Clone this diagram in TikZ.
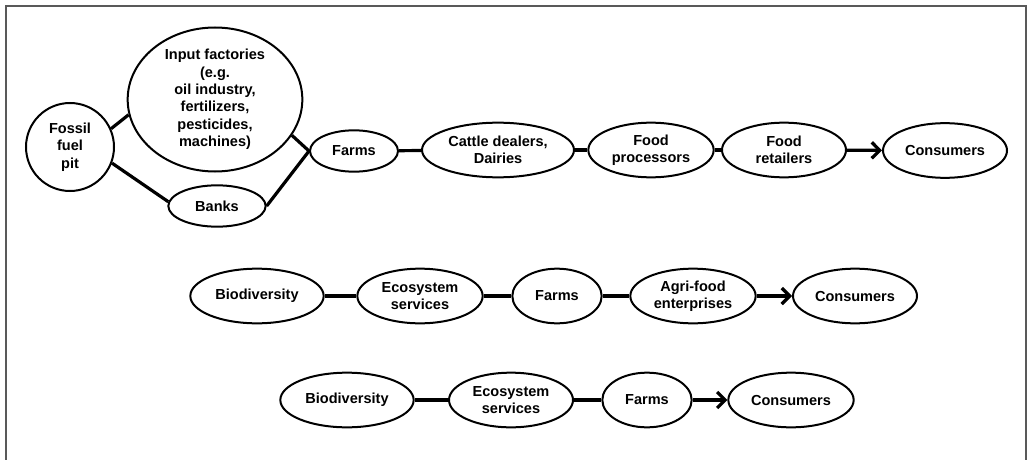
\documentclass[tikz,border=0pt]{standalone}
\usepackage{fontspec}
\setmainfont{Liberation Sans}
\usepackage{tikz}
\usetikzlibrary{shapes.geometric,arrows.meta}

\tikzset{
  oval/.style={draw, ellipse, line width=1.5pt, inner sep=0pt, align=center,
    font=\bfseries\fontsize{10.9}{13}\selectfont},
  link/.style={line width=2.4pt},
  flow/.style={line width=2.4pt, -{Straight Barb[length=6pt,width=12pt]}}
}

\begin{document}
\begin{tikzpicture}[x=0.75pt,y=-0.75pt]
            \useasboundingbox (0,0) rectangle (1027,460);
            \draw [gray!70!black, line width=1.5pt] (6,460) -- (6,6) -- (1026,6) -- (1026,460);
            % first chain
            \node[oval, minimum width=66pt, minimum height=66pt] (fossil) at (70,147) {Fossil\\fuel\\pit};
            \node[oval, minimum width=131pt, minimum height=108pt] (input) at (215,99.5) {Input factories\\(e.g.\\oil industry,\\fertilizers,\\pesticides,\\machines)};
            \node[oval, minimum width=73pt, minimum height=31pt] (banks) at (217,206) {Banks};
            \node[oval, minimum width=66pt, minimum height=31pt] (farmsA) at (354,151) {Farms};
            \node[oval, minimum width=114pt, minimum height=41pt] (cattle) at (498,150) {Cattle dealers,\\Dairies};
            \node[oval, minimum width=94pt, minimum height=41pt] (proc) at (651,150) {Food\\processors};
            \node[oval, minimum width=93pt, minimum height=41pt] (retail) at (784,150) {Food\\retailers};
            \node[oval, minimum width=93pt, minimum height=41pt] (consA) at (945,150.5) {Consumers};
            \draw [link] (fossil.24) -- (input.190);
            \draw [link] (fossil.339) -- (banks.175);
            \draw [link] (input.-25) -- (farmsA.west);
            \draw [link] (banks.east) -- (farmsA.west);
            \foreach \a/\b in {farmsA/cattle, cattle/proc, proc/retail}
            \draw [link] (\a) -- (\b);
            \draw [flow] (retail) -- (consA);
            % second chain
            \node[oval, minimum width=100pt, minimum height=41pt] (bioB) at (257,296) {Biodiversity};
            \node[oval, minimum width=94pt, minimum height=41pt] (ecoB) at (420,296) {Ecosystem\\services};
            \node[oval, minimum width=67pt, minimum height=41pt] (farmsB) at (557,296) {Farms};
            \node[oval, minimum width=94pt, minimum height=41pt] (agriB) at (693,296) {Agri-food\\enterprises};
            \node[oval, minimum width=93pt, minimum height=41pt] (consB) at (855,296) {Consumers};
            \foreach \a/\b in {bioB/ecoB, ecoB/farmsB, farmsB/agriB}
            \draw [link] (\a) -- (\b);
            \draw [flow] (agriB) -- (consB);
            % third chain
            \node[oval, minimum width=100pt, minimum height=41pt] (bioC) at (347,400) {Biodiversity};
            \node[oval, minimum width=93pt, minimum height=41pt] (ecoC) at (511,400) {Ecosystem\\services};
            \node[oval, minimum width=67pt, minimum height=41pt] (farmsC) at (647,400) {Farms};
            \node[oval, minimum width=94pt, minimum height=41pt] (consC) at (791,400) {Consumers};
            \foreach \a/\b in {bioC/ecoC, ecoC/farmsC}
            \draw [link] (\a) -- (\b);
            \draw [flow] (farmsC) -- (consC);
        \end{tikzpicture}
\end{document}
